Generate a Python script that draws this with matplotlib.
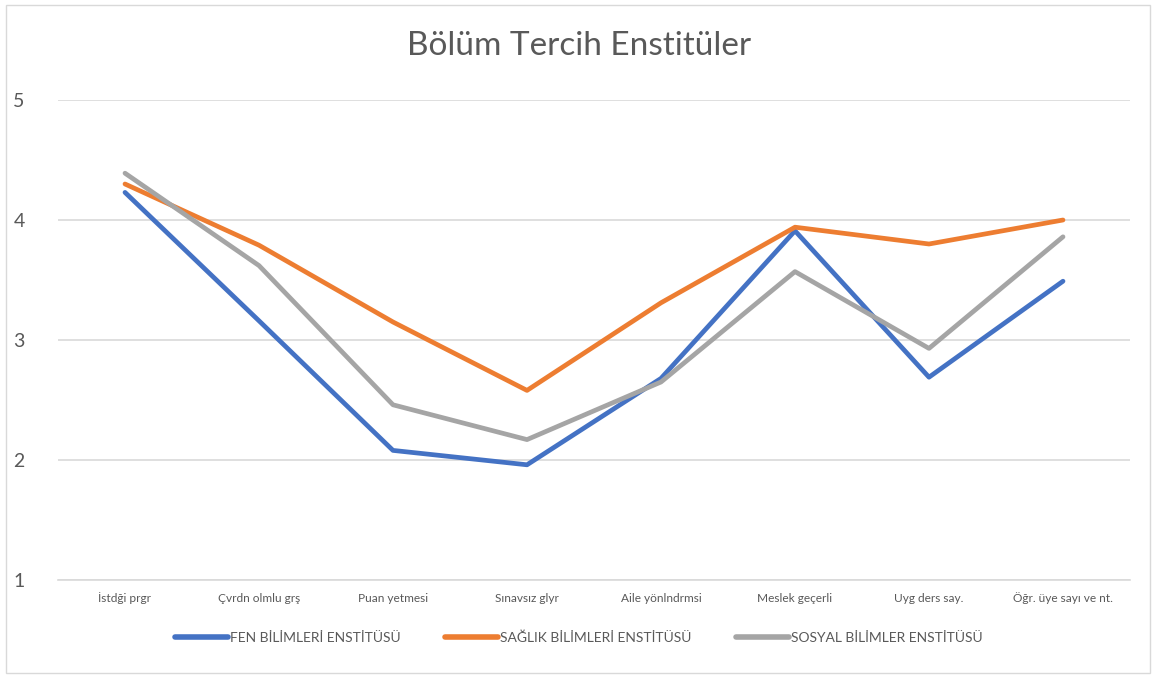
import matplotlib.pyplot as plt
from matplotlib.patches import Rectangle

categories = ['İstdği prgr', 'Çvrdn olmlu grş', 'Puan yetmesi', 'Sınavsız glyr',
              'Aile yönlndrmsi', 'Meslek geçerli', 'Uyg ders say.', 'Öğr. üye sayı ve nt.']
fen = [4.23, 3.16, 2.08, 1.96, 2.68, 3.91, 2.69, 3.49]
saglik = [4.30, 3.79, 3.15, 2.58, 3.31, 3.94, 3.80, 4.00]
sosyal = [4.39, 3.62, 2.46, 2.17, 2.65, 3.57, 2.93, 3.86]
series_names = ['FEN BİLİMLERİ ENSTİTÜSÜ', 'SAĞLIK BİLİMLERİ ENSTİTÜSÜ', 'SOSYAL BİLİMLER ENSTİTÜSÜ']

plt.rcParams['font.family'] = ['Lato', 'DejaVu Sans']
text_color = '#595959'

dpi = 100
fig = plt.figure(figsize=(1158/dpi, 677/dpi), dpi=dpi)
ax = fig.add_axes([58/1158, 1 - 580/677, (1130 - 58)/1158, 480/677])

x = range(len(categories))
ax.plot(x, fen, color='#4472C4', linewidth=3.4, solid_capstyle='round', label=series_names[0])
ax.plot(x, saglik, color='#ED7D31', linewidth=3.4, solid_capstyle='round', label=series_names[1])
ax.plot(x, sosyal, color='#A5A5A5', linewidth=3.4, solid_capstyle='round', label=series_names[2])

ax.set_xlim(-0.5, len(categories) - 0.5)
ax.set_ylim(1, 5)
ax.set_yticks([1, 2, 3, 4, 5])
ax.set_xticks(list(x))
ax.set_xticklabels(categories, fontsize=8.6, color=text_color)
ax.tick_params(axis='y', length=0, pad=24, labelsize=14, labelcolor=text_color)
ax.tick_params(axis='x', length=0, pad=9)
ax.grid(axis='y', color='#D9D9D9', linewidth=1.2)
ax.set_axisbelow(True)
for s in ax.spines.values():
    s.set_visible(False)
ax.spines['bottom'].set_visible(True)
ax.spines['bottom'].set_color('#D9D9D9')
ax.spines['bottom'].set_linewidth(1.2)

fig.text(0.5, 1 - 46/677, 'Bölüm Tercih Enstitüler', ha='center', va='center',
         fontsize=24, color=text_color)

leg = fig.legend(loc='center', bbox_to_anchor=(0.5, 1 - 638/677), ncol=3, frameon=False,
                 fontsize=10, handlelength=3.8, handletextpad=0.15, columnspacing=3.2)
for t in leg.get_texts():
    t.set_color(text_color)
for h in leg.get_lines():
    h.set_linewidth(4)

fig.patches.append(Rectangle((6/1158, 4/677), 1144/1158, 668/677, transform=fig.transFigure,
                             fill=False, edgecolor='#D9D9D9', linewidth=1))

plt.savefig('out.png', dpi=dpi)
